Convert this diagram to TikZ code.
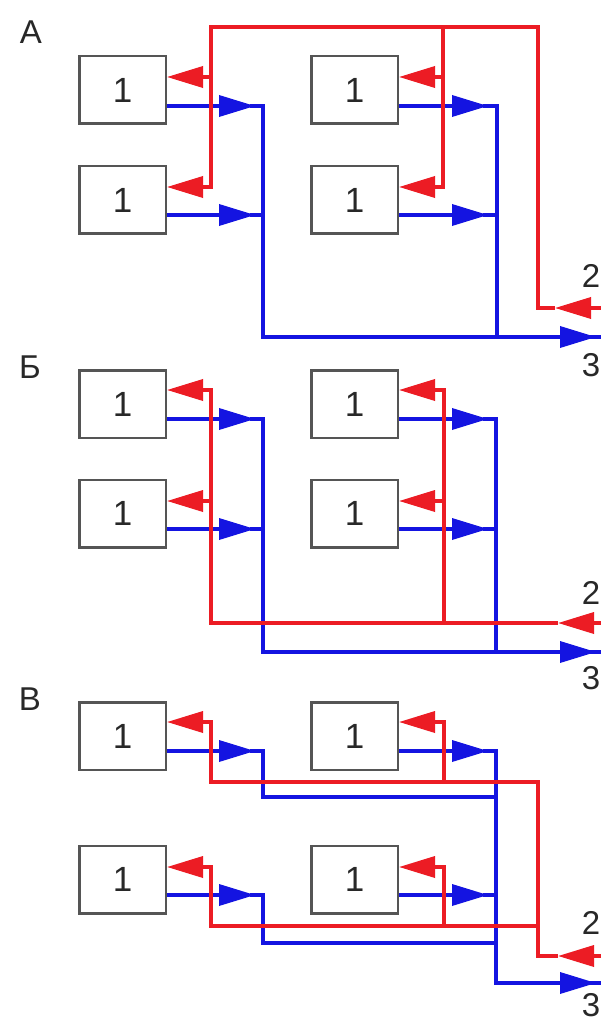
\documentclass[tikz,border=0pt]{standalone}
\usepackage{fontspec}
\setmainfont{Liberation Sans}
\usetikzlibrary{arrows.meta,calc}
\definecolor{wred}{RGB}{236,28,36}
\definecolor{wblue}{RGB}{20,20,225}
\definecolor{wgray}{RGB}{85,85,85}
\definecolor{wtext}{RGB}{40,40,40}
\begin{document}
\begin{tikzpicture}[x=1pt,y=-1pt,
  box/.style={draw=wgray,line width=2.5pt,fill=white,minimum width=86.5pt,minimum height=67.5pt,inner sep=0pt,font=\fontsize{35}{35}\selectfont,text=wtext},
  rl/.style={draw=wred,line width=3.5pt},
  bl/.style={draw=wblue,line width=3.5pt},
  arw/.style={-{Triangle[length=36pt,width=21pt]}},
  lab/.style={font=\fontsize{33}{33}\selectfont,text=wtext,inner sep=0pt}]
\useasboundingbox[fill=white] (0,0) rectangle (601,1024);

% ---------- A ----------
\node[box] (a1) at (122.5,90) {1};
\node[box] (a2) at (122.5,200) {1};
\node[box] (a3) at (354.5,90) {1};
\node[box] (a4) at (354.5,200) {1};
\node[lab] (lA) at (31,32) {А};
\node[lab] (a2l) at (591,276) {2};
\node[lab] (a3l) at (591,365) {3};
\coordinate (aIn) at (601,308);
\coordinate (aOut) at (601,337);

\draw[bl,arw] (a1.east |- 0,106) -- (255,106);
\draw[bl,arw] (a2.east |- 0,215) -- (255,215);
\draw[bl,arw] (a3.east |- 0,106) -- (488,106);
\draw[bl,arw] (a4.east |- 0,215) -- (488,215);
\draw[bl] (250,106) -- (263,106) -- (263,337) -- (aOut);
\draw[bl] (250,215) -- (263,215);
\draw[bl] (483,106) -- (497,106) -- (497,337);
\draw[bl] (483,215) -- (497,215);
\draw[bl,arw] (555,337) -- (596,337);

\draw[rl,arw] (555,308) -- (538,308) -- (538,27) -- (211,27) -- (211,187) -- (a2.east |- 0,187);
\draw[rl,arw] (211,77) -- (a1.east |- 0,77);
\draw[rl,arw] (443,27) -- (443,187) -- (a4.east |- 0,187);
\draw[rl,arw] (443,77) -- (a3.east |- 0,77);
\draw[rl,arw] (aIn) -- (555,308);

% ---------- B ----------
\node[box] (b1) at (122.5,404) {1};
\node[box] (b2) at (122.5,513.5) {1};
\node[box] (b3) at (354.5,404) {1};
\node[box] (b4) at (354.5,513.5) {1};
\node[lab] (lB) at (30,367) {Б};
\node[lab] (b2l) at (591,593) {2};
\node[lab] (b3l) at (591,678) {3};
\coordinate (bIn) at (601,623);
\coordinate (bOut) at (601,652);

\draw[bl,arw] (b1.east |- 0,419) -- (255,419);
\draw[bl,arw] (b2.east |- 0,529) -- (255,529);
\draw[bl,arw] (b3.east |- 0,419) -- (488,419);
\draw[bl,arw] (b4.east |- 0,529) -- (488,529);
\draw[bl] (250,419) -- (263,419) -- (263,652) -- (bOut);
\draw[bl] (250,529) -- (263,529);
\draw[bl] (483,419) -- (496,419) -- (496,652);
\draw[bl] (483,529) -- (496,529);
\draw[bl,arw] (555,652) -- (596,652);

\draw[rl,arw] (558,623) -- (211,623) -- (211,390) -- (b1.east |- 0,390);
\draw[rl,arw] (211,501) -- (b2.east |- 0,501);
\draw[rl,arw] (444,623) -- (444,390) -- (b3.east |- 0,390);
\draw[rl,arw] (444,501) -- (b4.east |- 0,501);
\draw[rl,arw] (bIn) -- (558,623);

% ---------- V ----------
\node[box] (c1) at (122.5,736) {1};
\node[box] (c2) at (122.5,879.5) {1};
\node[box] (c3) at (354.5,736) {1};
\node[box] (c4) at (354.5,879.5) {1};
\node[lab] (lC) at (30,699) {В};
\node[lab] (c2l) at (591,923) {2};
\node[lab] (c3l) at (591,1005) {3};
\coordinate (cIn) at (601,956);
\coordinate (cOut) at (601,983);

\draw[bl,arw] (c1.east |- 0,751) -- (255,751);
\draw[bl,arw] (c3.east |- 0,751) -- (488,751);
\draw[bl,arw] (c2.east |- 0,895) -- (255,895);
\draw[bl,arw] (c4.east |- 0,895) -- (488,895);
\draw[bl] (250,751) -- (263,751) -- (263,797) -- (496,797);
\draw[bl] (483,751) -- (496,751) -- (496,983) -- (cOut);
\draw[bl] (250,895) -- (263,895) -- (263,943) -- (496,943);
\draw[bl] (483,895) -- (496,895);
\draw[bl,arw] (555,983) -- (596,983);

\draw[rl,arw] (558,956) -- (538,956) -- (538,782) -- (211,782) -- (211,722) -- (c1.east |- 0,722);
\draw[rl,arw] (444,782) -- (444,722) -- (c3.east |- 0,722);
\draw[rl,arw] (538,926) -- (211,926) -- (211,867) -- (c2.east |- 0,867);
\draw[rl,arw] (444,926) -- (444,867) -- (c4.east |- 0,867);
\draw[rl,arw] (cIn) -- (558,956);
\end{tikzpicture}
\end{document}
